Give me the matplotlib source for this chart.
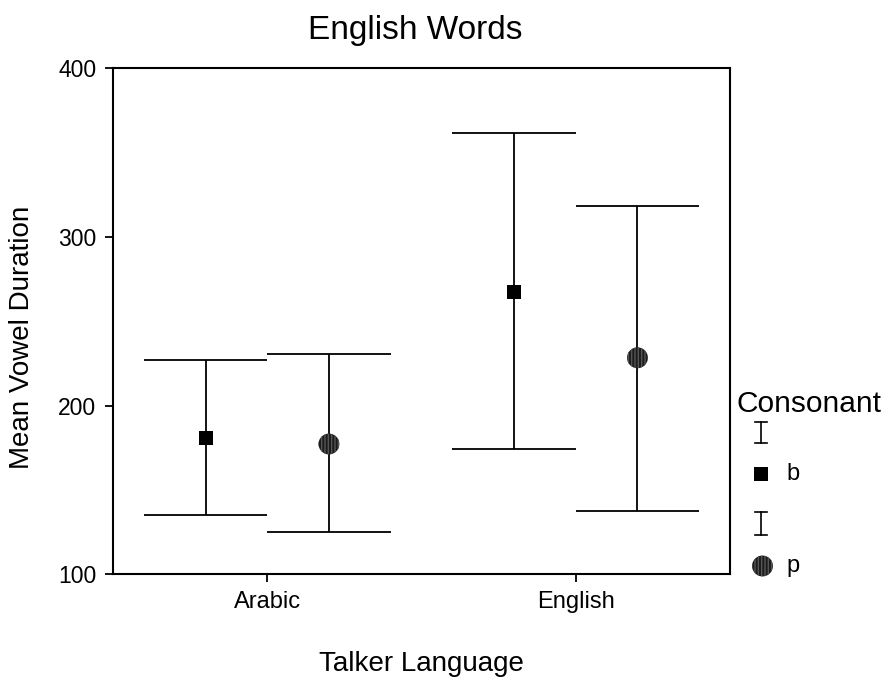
import matplotlib
matplotlib.use("Agg")
import matplotlib.pyplot as plt
import numpy as np

plt.rcParams['font.family'] = ['Liberation Sans', 'DejaVu Sans']

# ---- data ----
languages = ["Arabic", "English"]
consonants = ["b", "p"]
means_b = [180.6, 267.1]
upper_b = [227.2, 361.3]
lower_b = [135.3, 174.2]
means_p = [177.2, 228.3]
upper_p = [230.5, 318.2]
lower_p = [125.2, 137.3]
yticks = [100, 200, 300, 400]

W, H = 886, 683
fig = plt.figure(figsize=(W / 100, H / 100), dpi=100)
ax = fig.add_axes([113 / W, 1 - 574.3 / H, (730 - 113) / W, (574.3 - 68) / H])

x = np.arange(len(languages))
off = 0.2
capw = 0.2
lw = 1.3

series = [
    (means_b, upper_b, lower_b, -off, 's', 10.5, '#000000', None),
    (means_p, upper_p, lower_p, off, 'o', 15, '#1c1c1c', '|||||'),
]
for means, up, lo, dx, mk, ms, fc, hatch in series:
    xs = x + dx
    ax.vlines(xs, lo, up, color='black', lw=lw, zorder=2)
    ax.hlines(up, xs - capw, xs + capw, color='black', lw=lw, zorder=2)
    ax.hlines(lo, xs - capw, xs + capw, color='black', lw=lw, zorder=2)
    ax.scatter(xs, means, marker=mk, s=ms ** 2, facecolor=fc,
               edgecolor='#555555' if hatch else 'black', linewidth=0,
               hatch=hatch, zorder=3)

ax.set_xlim(-0.5, 1.5)
ax.set_ylim(100, 400)
ax.set_xticks(x)
ax.set_xticklabels(languages, fontsize=17)
ax.set_yticks(yticks)
ax.set_yticklabels([str(v) for v in yticks], fontsize=16.5)
ax.tick_params(direction='out', length=6, width=1.3, pad=6)
for s in ax.spines.values():
    s.set_linewidth(1.5)

fig.text(415 / W, 1 - 30 / H, "English Words", ha='center', va='center', fontsize=24)
fig.text(421 / W, 1 - 664 / H, "Talker Language", ha='center', va='center', fontsize=20)
fig.text(22 / W, 1 - 337 / H, "Mean Vowel Duration", ha='center', va='center',
         rotation=90, fontsize=20)

# ---- legend (drawn in a pixel-coordinate overlay) ----
lax = fig.add_axes([0, 0, 1, 1], facecolor='none')
lax.set_xlim(0, W)
lax.set_ylim(H, 0)
lax.axis('off')
lax.text(737, 404, "Consonant", ha='left', va='center', fontsize=21.5)
for (y0, y1) in [(421.7, 443.3), (511.7, 535)]:
    lax.plot([761.5, 761.5], [y0, y1], color='black', lw=1.2)
    lax.plot([755.5, 767.5], [y0, y0], color='black', lw=1.2)
    lax.plot([755.5, 767.5], [y1, y1], color='black', lw=1.2)
lax.scatter([761], [474], marker='s', s=10.5 ** 2, facecolor='black', linewidth=0)
lax.scatter([762.5], [566], marker='o', s=15 ** 2, facecolor='#1c1c1c',
            edgecolor='#555555', linewidth=0, hatch='|||||')
lax.text(786, 474, consonants[0], ha='left', va='center', fontsize=17)
lax.text(786, 566, consonants[1], ha='left', va='center', fontsize=17)

fig.savefig("out.png", dpi=100)
